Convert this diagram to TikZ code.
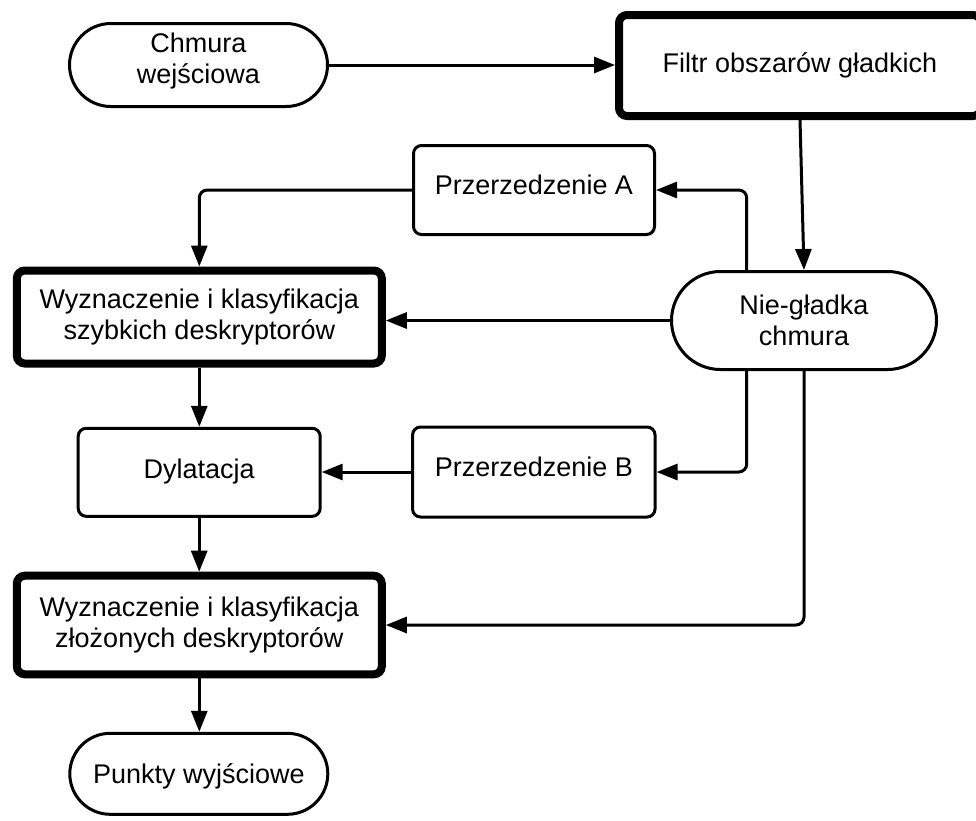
\documentclass[tikz,border=0pt]{standalone}
\usepackage{fontspec}
\setmainfont{Liberation Sans}
\usetikzlibrary{arrows.meta}
% invisible strut that deepens the last line of a label
\newcommand\padbelow[1]{\rule[-#1]{0pt}{0pt}}
\begin{document}
\begin{tikzpicture}[x=1pt,y=-1pt,
  every node/.style={font=\fontsize{27}{31.5}\selectfont, align=center, inner sep=0pt},
  stadium/.style 2 args={draw, line width=3pt, fill=white,
    minimum width=#1, minimum height=#2, rounded corners=#2/2},
  thinbox/.style={draw, line width=3pt, fill=white, rounded corners=8pt},
  thickbox/.style={draw, line width=8pt, fill=white, rounded corners=8pt},
  oneline/.style={text height=19.4pt, text depth=#1},
  flow/.style={line width=3pt, rounded corners=8pt,
    -{Triangle[length=21pt,width=16pt]}}]
\useasboundingbox (0,0) rectangle (976,820);

% process steps
\node[stadium={258pt}{83pt}] (chm) at (198.5,65) {Chmura\\wejściowa\padbelow{14pt}};
\node[thickbox, minimum width=362pt, minimum height=101pt, oneline=5pt] (filtr) at (800,65.5) {Filtr obszarów gładkich};
\node[thinbox, minimum width=241pt, minimum height=89pt, oneline=10pt] (pa) at (534,190) {Przerzedzenie A};
\node[thickbox, minimum width=365pt, minimum height=93pt] (szyb) at (199.3,317) {Wyznaczenie i klasyfikacja\\szybkich deskryptorów};
\node[stadium={265pt}{98pt}] (nie) at (804,320.5) {Nie-gładka\\chmura};
\node[thinbox, minimum width=242pt, minimum height=88pt, oneline=7pt] (dyl) at (199.2,472.3) {Dylatacja};
\node[thinbox, minimum width=242.5pt, minimum height=90pt, oneline=10pt] (pb) at (533.8,472) {Przerzedzenie B};
\node[thickbox, minimum width=365pt, minimum height=98.6pt] (zloz) at (199.3,625) {Wyznaczenie i klasyfikacja\\złożonych deskryptorów};
\node[stadium={258pt}{81pt}, oneline=0pt] (pkt) at (198.8,773.8) {Punkty wyjściowe};

% branch points on the non-smooth cloud
\coordinate (nieA) at ([xshift=-57.3pt]nie.north);
\coordinate (nieB) at ([xshift=-57.3pt]nie.south);

% connectors
\draw[flow] (chm.east) -- (chm.east -| filtr.west);
\draw[flow] (filtr.south) -- (nie.north);
\draw[flow] (nieA) |- (pa.east);
\draw[flow] (pa.west) -| (szyb.north);
\draw[flow] (nie.west) -- (nie.west -| szyb.east);
\draw[flow] (szyb.south) -- (szyb.south |- dyl.north);
\draw[flow] (nieB) |- (pb.east);
\draw[flow] (pb.west) -- (pb.west -| dyl.east);
\draw[flow] (dyl.south) -- (dyl.south |- zloz.north);
\draw[flow] (nie.south) |- (zloz.east);
\draw[flow] (zloz.south) -- (zloz.south |- pkt.north);
\end{tikzpicture}
\end{document}
